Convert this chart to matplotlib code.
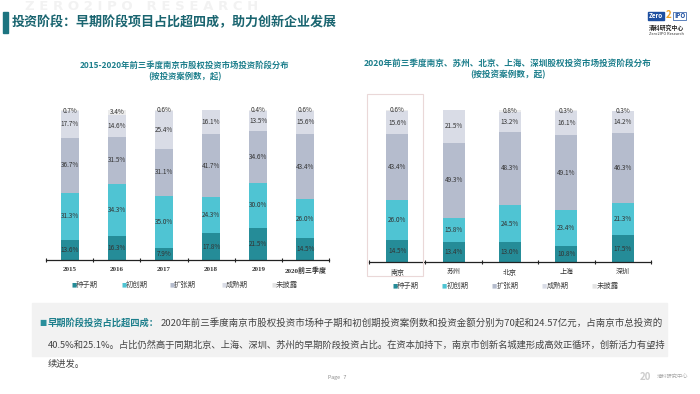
import matplotlib
matplotlib.use("Agg")
import matplotlib.pyplot as plt
import numpy as np
from matplotlib.patches import Rectangle

plt.rcParams['font.family'] = ['Noto Sans CJK SC', 'DejaVu Sans']

# ---- data ----
stages = ['种子期', '初创期', '扩张期', '成熟期', '未披露']
years = ['2015', '2016', '2017', '2018', '2019', '2020前三季度']
seed_y = [13.6, 16.3, 7.9, 17.8, 21.5, 14.5]
early_y = [31.3, 34.3, 35.0, 24.3, 30.0, 26.0]
expand_y = [36.7, 31.5, 31.1, 41.7, 34.6, 43.4]
mature_y = [17.7, 14.6, 25.4, 16.1, 13.5, 15.6]
unknown_y = [0.7, 3.4, 0.6, 0.0, 0.4, 0.6]

cities = ['南京', '苏州', '北京', '上海', '深圳']
seed_c = [14.5, 13.4, 13.0, 10.8, 17.5]
early_c = [26.0, 15.8, 24.5, 23.4, 21.3]
expand_c = [43.4, 49.3, 48.3, 49.1, 46.3]
mature_c = [15.6, 21.5, 13.2, 16.1, 14.2]
unknown_c = [0.6, 0.0, 0.8, 0.3, 0.3]

colors = ['#258c98', '#4fc4d3', '#b5bccd', '#d9dce6', '#ececec']
teal = '#1c7480'

W, H = 700, 394
fig = plt.figure(figsize=(7, 3.94), dpi=100)


def fx(x):
    return x / W


def fy(y):
    return 1 - y / H


# header
fig.patches.append(Rectangle((fx(3), fy(33)), fx(5), 21 / H, transform=fig.transFigure,
                             color=teal, zorder=2))
fig.text(fx(25), fy(6), 'Z E R O 2 I P O   R E S E A R C H', fontsize=9.5, color='#f2f2f2',
         fontweight='bold', va='center', ha='left', zorder=0, family=['DejaVu Sans'])
fig.text(fx(12), fy(22), '投资阶段：早期阶段项目占比超四成，助力创新企业发展',
         fontsize=9.4, color='#1a6570', fontweight='bold', va='center', ha='left')

# logo top right
fig.text(fx(649), fy(16), 'Zero', fontsize=4.5, color='white', fontweight='bold',
         va='center', ha='left',
         bbox=dict(boxstyle='square,pad=0.15', fc='#1d4fa0', ec='#1d4fa0'))
fig.text(fx(669), fy(15), '2', fontsize=7, color='#f0a020', fontweight='bold',
         va='center', ha='center')
fig.text(fx(674), fy(16), 'IPO', fontsize=4.5, color='#1d4fa0', fontweight='bold',
         va='center', ha='left',
         bbox=dict(boxstyle='square,pad=0.15', fc='white', ec='#1d4fa0', lw=0.5))
fig.text(fx(649), fy(28), '清科研究中心', fontsize=4.2, color='#222222',
         fontweight='bold', va='center', ha='left')
fig.text(fx(649), fy(34), 'Zero2IPO Research', fontsize=2.8, color='#333333',
         va='center', ha='left')


def stacked(ax, labels, series, width):
    x = np.arange(len(labels))
    bottom = np.zeros(len(labels))
    for i, vals in enumerate(series):
        vals = np.array(vals)
        ax.bar(x, vals, width, bottom=bottom, color=colors[i], zorder=2)
        for xi, b, v in zip(x, bottom, vals):
            if v > 0:
                ax.text(xi, b + v / 2, f'{v:.1f}%', ha='center', va='center',
                        fontsize=4.6, color='#333333', zorder=3)
        bottom += vals
    ax.set_xlim(-0.5, len(labels) - 0.5)
    ax.set_ylim(0, 100)
    for s in ['top', 'right', 'left']:
        ax.spines[s].set_visible(False)
    ax.spines['bottom'].set_linewidth(0.9)
    ax.spines['bottom'].set_color('#222222')
    ax.set_yticks([])
    ax.set_xticks(x)
    ax.set_xticklabels(labels, fontsize=5, color='#333333',
                       family=['Liberation Serif', 'Noto Sans CJK SC'])
    ax.tick_params(axis='x', which='major', length=0, pad=5)
    ax.set_xticks(np.arange(-0.5, len(labels)), minor=True)
    ax.tick_params(axis='x', which='minor', length=2.5, width=0.8,
                   direction='inout', color='#222222')


# left chart
fig.text(fx(185), fy(65), '2015-2020年前三季度南京市股权投资市场投资阶段分布',
         fontsize=6, color='#1d7f8c', fontweight='bold', ha='center', va='center')
fig.text(fx(185), fy(77), '(按投资案例数，起)', fontsize=6, color='#1d7f8c',
         fontweight='bold', ha='center', va='center')
ax1 = fig.add_axes([fx(46), fy(260), fx(283), 150 / H])
stacked(ax1, years, [seed_y, early_y, expand_y, mature_y, unknown_y], 0.38)
for lab in ax1.get_xticklabels():
    lab.set_fontweight('bold')

# right chart
fig.text(fx(508), fy(63), '2020年前三季度南京、苏州、北京、上海、深圳股权投资市场投资阶段分布',
         fontsize=6.2, color='#1d7f8c', fontweight='bold', ha='center', va='center')
fig.text(fx(508), fy(75), '(按投资案例数，起)', fontsize=6.2, color='#1d7f8c',
         fontweight='bold', ha='center', va='center')
ax2 = fig.add_axes([fx(369), fy(262), fx(282), 152 / H])
stacked(ax2, cities, [seed_c, early_c, expand_c, mature_c, unknown_c], 0.39)

# highlight box around 南京
fig.patches.append(Rectangle((fx(367), fy(276)), fx(56), 182 / H, transform=fig.transFigure,
                             fill=False, ec='#ead8d8', lw=0.8, zorder=1))

# legends
for xs, y in [([71, 121, 169, 221, 271], 285), ([392, 442, 492, 542, 592], 286)]:
    for i, (xx, name) in enumerate(zip(xs, stages)):
        fig.text(fx(xx), fy(y), '■', fontsize=4, color=colors[i] if i < 4 else '#e4e4e4',
                 ha='left', va='center', family=['DejaVu Sans'])
        fig.text(fx(xx + 5), fy(y), name, fontsize=5.3, color='#444444',
                 ha='left', va='center')

# bottom text box
fig.patches.append(Rectangle((fx(32), fy(356)), fx(635), 53 / H, transform=fig.transFigure,
                             color='#f2f2f2', zorder=0))
fig.text(fx(39), fy(323), '■', fontsize=5.5, color='#2a8f9c', ha='left', va='center',
         family=['DejaVu Sans'])
fig.text(fx(48), fy(323), '早期阶段投资占比超四成：', fontsize=6.7, color='#1d7f8c',
         fontweight='bold', ha='left', va='center')
fig.text(fx(161), fy(323),
         '2020年前三季度南京市股权投资市场种子期和初创期投资案例数和投资金额分别为70起和24.57亿元，占南京市总投资的',
         fontsize=6.8, color='#444444', ha='left', va='center')
fig.text(fx(48), fy(345),
         '40.5%和25.1%。占比仍然高于同期北京、上海、深圳、苏州的早期阶段投资占比。在资本加持下，南京市创新名城建形成高效正循环，创新活力有望持',
         fontsize=6.7, color='#444444', ha='left', va='center')
fig.text(fx(48), fy(364), '续进发。', fontsize=6.7, color='#444444', ha='left', va='center')

# footer
fig.text(fx(337), fy(377), 'Page   7', fontsize=3.8, color='#888888', ha='center', va='center')
fig.text(fx(640), fy(377), '20', fontsize=7, color='#cccccc', fontweight='bold',
         ha='left', va='center')
fig.text(fx(657), fy(377), '清科研究中心', fontsize=3.8, color='#aaaaaa', ha='left', va='center')

fig.savefig('out.png', dpi=100)
